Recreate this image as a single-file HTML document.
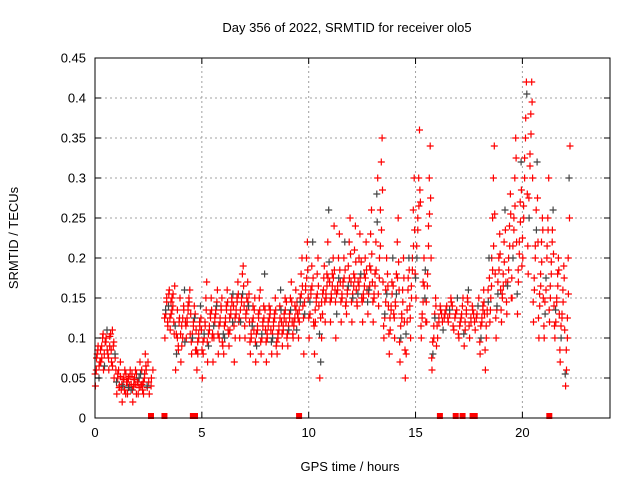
<!DOCTYPE html>
<html><head><meta charset="utf-8"><style>
body{margin:0;background:#fff}
svg{display:block;font-family:"Liberation Sans",sans-serif}
</style></head><body>
<svg id="chart" width="640" height="480" viewBox="0 0 640 480">
<rect width="640" height="480" fill="#fff"/>
<g id="grid"></g>
<g id="points"></g>
<g id="zeros"></g>
<rect x="95" y="58" width="515" height="360" fill="none" stroke="#000" stroke-width="1"/>
<g id="axes" font-size="13" fill="#000"></g>
<text x="347" y="32" text-anchor="middle" font-size="13">Day 356 of 2022, SRMTID for receiver olo5</text>
<text x="350" y="471" text-anchor="middle" font-size="13">GPS time / hours</text>
<text transform="translate(18,238) rotate(-90)" text-anchor="middle" font-size="13">SRMTID / TECUs</text>
</svg>
<script>
const binStart = 0;
const binWidth = 0.25;
const binValues = [
[0.04,0.06,0.08,0.09,0.05,0.07],[0.07,0.09,0.1,0.06,0.08,0.095],[0.1,0.11,0.08,0.06,0.09,0.105],[0.07,0.11,0.09,0.05,0.08,0.06],
[0.03,0.05,0.06,0.04,0.07,0.035],[0.02,0.04,0.05,0.06,0.03,0.045],[0.03,0.05,0.04,0.06,0.035,0.055],[0.02,0.04,0.05,0.06,0.03,0.045],
[0.03,0.05,0.07,0.04,0.06,0.035],[0.03,0.05,0.08,0.06,0.04,0.07],[0.03,0.04,0.06],[],[],
[0.1,0.13,0.15,0.12,0.14,0.16],[0.11,0.13,0.15,0.14,0.12,0.165],[0.06,0.08,0.1,0.09,0.12,0.15],[0.07,0.09,0.1,0.14,0.16,0.12],
[0.1,0.12,0.14,0.15,0.16,0.13],[0.08,0.1,0.12,0.14,0.13,0.11],[0.06,0.08,0.1,0.12,0.14,0.11],[0.05,0.08,0.1,0.12,0.15,0.17],
[0.07,0.09,0.11,0.13,0.15,0.1],[0.07,0.1,0.12,0.13,0.14,0.16],[0.08,0.1,0.12,0.14,0.15,0.09],[0.08,0.1,0.12,0.14,0.16,0.11],
[0.09,0.11,0.13,0.15,0.12,0.14],[0.07,0.1,0.13,0.15,0.17,0.12],[0.1,0.12,0.15,0.18,0.19,0.14],[0.1,0.13,0.15,0.17,0.14,0.12],
[0.08,0.1,0.12,0.14,0.11,0.15],[0.07,0.09,0.11,0.13,0.15,0.16],[0.08,0.1,0.12,0.14,0.18,0.11],[0.07,0.1,0.12,0.14,0.13,0.11],
[0.08,0.1,0.12,0.13,0.15,0.09],[0.08,0.1,0.11,0.14,0.16,0.12],[0.09,0.11,0.13,0.15,0.12,0.1],[0.09,0.11,0.13,0.15,0.17,0.12],
[0.1,0.12,0.14,0.16,0.11,0.13],[0.1,0.12,0.15,0.18,0.2,0.14],[0.08,0.13,0.16,0.2,0.22,0.15],[0.1,0.13,0.16,0.19,0.22,0.12],
[0.08,0.12,0.15,0.18,0.2,0.14],[0.05,0.07,0.1,0.13,0.16,0.19],[0.12,0.15,0.18,0.22,0.26,0.17],[0.12,0.15,0.18,0.2,0.24,0.16],
[0.1,0.13,0.16,0.2,0.23,0.17],[0.12,0.15,0.17,0.2,0.22,0.14],[0.13,0.16,0.19,0.22,0.25,0.17],[0.12,0.15,0.18,0.21,0.24,0.16],
[0.14,0.17,0.2,0.23,0.18,0.15],[0.12,0.15,0.18,0.2,0.22,0.16],[0.13,0.16,0.19,0.23,0.26,0.17],[0.12,0.15,0.18,0.22,0.28,0.3],
[0.14,0.2,0.26,0.32,0.35,0.17],[0.1,0.13,0.16,0.2,0.18,0.14],[0.08,0.11,0.14,0.17,0.2,0.13],[0.1,0.14,0.18,0.22,0.25,0.16],
[0.07,0.1,0.13,0.16,0.2,0.12],[0.05,0.08,0.12,0.16,0.2,0.14],[0.1,0.15,0.2,0.26,0.3,0.18],[0.15,0.2,0.25,0.3,0.36,0.27],
[0.1,0.13,0.17,0.2,0.15,0.12],[0.12,0.18,0.24,0.3,0.34,0.2],[0.06,0.08,0.1,0.13,0.15,0.09],[0.1,0.12,0.14,0.13],
[0.11,0.13,0.14],[0.12,0.13,0.15,0.14],[0.11,0.13,0.15],[0.1,0.12,0.13,0.15],[0.09,0.11,0.13,0.15,0.16],
[0.1,0.12,0.14,0.13],[0.11,0.13,0.15],[0.08,0.1,0.12,0.14,0.16,0.13],[0.06,0.1,0.13,0.16,0.2,0.12],
[0.15,0.2,0.25,0.3,0.34,0.18],[0.1,0.14,0.17,0.2,0.23,0.16],[0.12,0.15,0.18,0.22,0.26,0.17],[0.13,0.17,0.2,0.24,0.28,0.15],
[0.15,0.2,0.25,0.3,0.35,0.22],[0.13,0.17,0.22,0.27,0.32,0.19],[0.2,0.25,0.3,0.35,0.42,0.28],[0.18,0.25,0.33,0.38,0.42,0.3],
[0.12,0.16,0.2,0.26,0.32,0.22],[0.1,0.14,0.18,0.22,0.25,0.15],[0.1,0.13,0.16,0.2,0.25,0.3],[0.12,0.15,0.18,0.22,0.26,0.14],
[0.1,0.12,0.15,0.18,0.2,0.13],[0.07,0.1,0.13,0.16,0.19,0.11],[0.04,0.06,0.1,0.2,0.3,0.34]
];
const binValues2 = [
[0.055,0.075,0.085,0.065],[0.085,0.075,0.105,0.065],[0.095,0.085,0.075,0.102],[0.085,0.065,0.095,0.075],
[0.045,0.055,0.038,0.052],[0.042,0.048,0.035,0.055],[0.045,0.038,0.052,0.042],[0.035,0.048,0.042,0.055],
[0.045,0.038,0.055,0.042],[0.045,0.055,0.065,0.038],[0.045,0.05],[],[],
[0.125,0.135,0.145,0.115,0.155],[0.125,0.145,0.135,0.155,0.105],[0.115,0.105,0.135,0.085,0.125],[0.105,0.115,0.125,0.135,0.095],
[0.115,0.125,0.135,0.145,0.105],[0.095,0.105,0.115,0.125,0.085],[0.085,0.095,0.105,0.115,0.125],[0.085,0.095,0.105,0.115,0.135],
[0.095,0.105,0.115,0.125,0.135],[0.105,0.115,0.125,0.135,0.145],[0.105,0.115,0.125,0.135,0.095],[0.105,0.115,0.125,0.135,0.145],
[0.105,0.125,0.135,0.145,0.155],[0.115,0.125,0.135,0.145,0.155],[0.125,0.135,0.145,0.155,0.165],[0.115,0.125,0.135,0.145,0.155],
[0.095,0.105,0.115,0.125,0.135],[0.095,0.105,0.115,0.125,0.135],[0.095,0.105,0.115,0.125,0.135],[0.095,0.105,0.115,0.125,0.135],
[0.095,0.105,0.115,0.125,0.135],[0.095,0.105,0.115,0.125,0.135],[0.105,0.115,0.125,0.135,0.145],[0.105,0.115,0.125,0.135,0.145],
[0.105,0.115,0.125,0.135,0.145],[0.125,0.135,0.145,0.155,0.165],[0.125,0.145,0.165,0.175,0.185],[0.125,0.145,0.155,0.165,0.175],
[0.115,0.135,0.145,0.155,0.165],[0.105,0.125,0.145,0.155,0.175],[0.145,0.155,0.165,0.175,0.195],[0.145,0.155,0.165,0.175,0.185],
[0.145,0.155,0.165,0.175,0.185],[0.145,0.155,0.165,0.175,0.185],[0.145,0.155,0.165,0.175,0.205],[0.145,0.155,0.165,0.175,0.195],
[0.145,0.155,0.165,0.175,0.195],[0.145,0.155,0.165,0.175,0.185],[0.145,0.155,0.165,0.185,0.205],[0.145,0.155,0.165,0.185,0.245],
[0.155,0.175,0.215,0.235,0.285],[0.115,0.125,0.145,0.155,0.165],[0.105,0.125,0.135,0.155,0.165],[0.125,0.145,0.155,0.175,0.195],
[0.095,0.115,0.125,0.145,0.175],[0.085,0.105,0.135,0.175,0.185],[0.125,0.165,0.185,0.215,0.235],[0.175,0.215,0.235,0.265,0.285],
[0.115,0.125,0.145,0.165,0.185],[0.145,0.165,0.215,0.255,0.275],[0.075,0.095,0.115,0.125,0.14],[0.115,0.125,0.135],
[0.12,0.125,0.135],[0.125,0.135,0.145],[0.115,0.125,0.135],[0.105,0.115,0.125,0.14],[0.105,0.12,0.135,0.145],
[0.115,0.125,0.135],[0.12,0.125,0.14],[0.095,0.115,0.125,0.135,0.145],[0.085,0.115,0.135,0.145,0.175],
[0.135,0.165,0.185,0.215,0.255],[0.125,0.135,0.155,0.185,0.205],[0.135,0.155,0.165,0.195,0.235],[0.145,0.165,0.185,0.215,0.255],
[0.175,0.215,0.235,0.265,0.325],[0.155,0.185,0.205,0.245,0.285],[0.225,0.265,0.325,0.375,0.405],[0.215,0.275,0.315,0.355,0.395],
[0.145,0.175,0.215,0.235,0.275],[0.125,0.155,0.165,0.195,0.235],[0.115,0.145,0.175,0.215,0.235],[0.135,0.165,0.195,0.235,0.205],
[0.115,0.135,0.145,0.165,0.185],[0.085,0.115,0.125,0.145,0.175],[0.055,0.085,0.125,0.155,0.25]
];
const zeroTimes = [2.62,3.25,4.58,4.68,9.55,16.14,16.88,17.2,17.67,17.77,21.26];
const xTicks = [0,5,10,15,20];
const yTicks = [0,0.05,0.1,0.15,0.2,0.25,0.3,0.35,0.4,0.45];
const yTickLabels = ["0","0.05","0.1","0.15","0.2","0.25","0.3","0.35","0.4","0.45"];

const NS="http://www.w3.org/2000/svg";
const X0=95,X1=610,Y0=418,Y1=58,XMAX=24.1,YMAX=0.45;
const xs=t=>X0+(X1-X0)*t/XMAX;
const ys=v=>Y0-(Y0-Y1)*v/YMAX;
function mk(tag,attrs,parent){const e=document.createElementNS(NS,tag);for(const k in attrs)e.setAttribute(k,attrs[k]);parent.appendChild(e);return e;}
const grid=document.getElementById('grid'),axes=document.getElementById('axes');
yTicks.forEach((v,i)=>{
  const y=ys(v);
  if(i>0&&i<yTicks.length-1){const l=mk('line',{x1:X0,x2:X1,y1:y,y2:y,stroke:'#a0a0a0','stroke-dasharray':'2,3'},grid);
  
  }
  mk('line',{x1:X0,x2:X0+6,y1:y,y2:y,stroke:'#000'},axes);
  mk('line',{x1:X1,x2:X1-6,y1:y,y2:y,stroke:'#000'},axes);
  const t=mk('text',{x:X0-9,y:y+4.5,'text-anchor':'end'},axes);t.textContent=yTickLabels[i];
  
  
});
xTicks.forEach(v=>{
  const x=xs(v);
  if(v>0){const l=mk('line',{x1:x,x2:x,y1:Y0,y2:Y1,stroke:'#a0a0a0','stroke-dasharray':'2,3'},grid);
  
  }
  mk('line',{x1:x,x2:x,y1:Y0,y2:Y0-6,stroke:'#000'},axes);
  mk('line',{x1:x,x2:x,y1:Y1,y2:Y1+6,stroke:'#000'},axes);
  const t=mk('text',{x:x,y:Y0+19,'text-anchor':'middle'},axes);t.textContent=String(v);
  
  
});
const pts=document.getElementById('points');
let d1='',d2='',n=0;
function plotSet(set,phase){
  set.forEach((vals,b)=>{
    vals.forEach((v,j)=>{
      const t=binStart+b*binWidth+binWidth*((j+phase)/vals.length);
      const x=xs(t),y=ys(v);
      const seg=`M${(x-3.5).toFixed(1)},${y.toFixed(1)}h7M${x.toFixed(1)},${(y-3.5).toFixed(1)}v7`;
      if(n%9===4)d2+=seg;else d1+=seg;
      n++;
    });
  });
}
plotSet(binValues,0.5);
plotSet(binValues2,0.1);
const p1=mk('path',{d:d1,stroke:'#ff0000','stroke-width':1.2,fill:'none'},pts);


const p2=mk('path',{d:d2,stroke:'#444','stroke-width':1.2,fill:'none'},pts);


const zg=document.getElementById('zeros');
zeroTimes.forEach(t=>{
  const r=mk('rect',{x:xs(t)-3,y:Y0-5,width:6,height:6,fill:'#ff0000'},zg);
  
  
});
</script>
</body></html>
